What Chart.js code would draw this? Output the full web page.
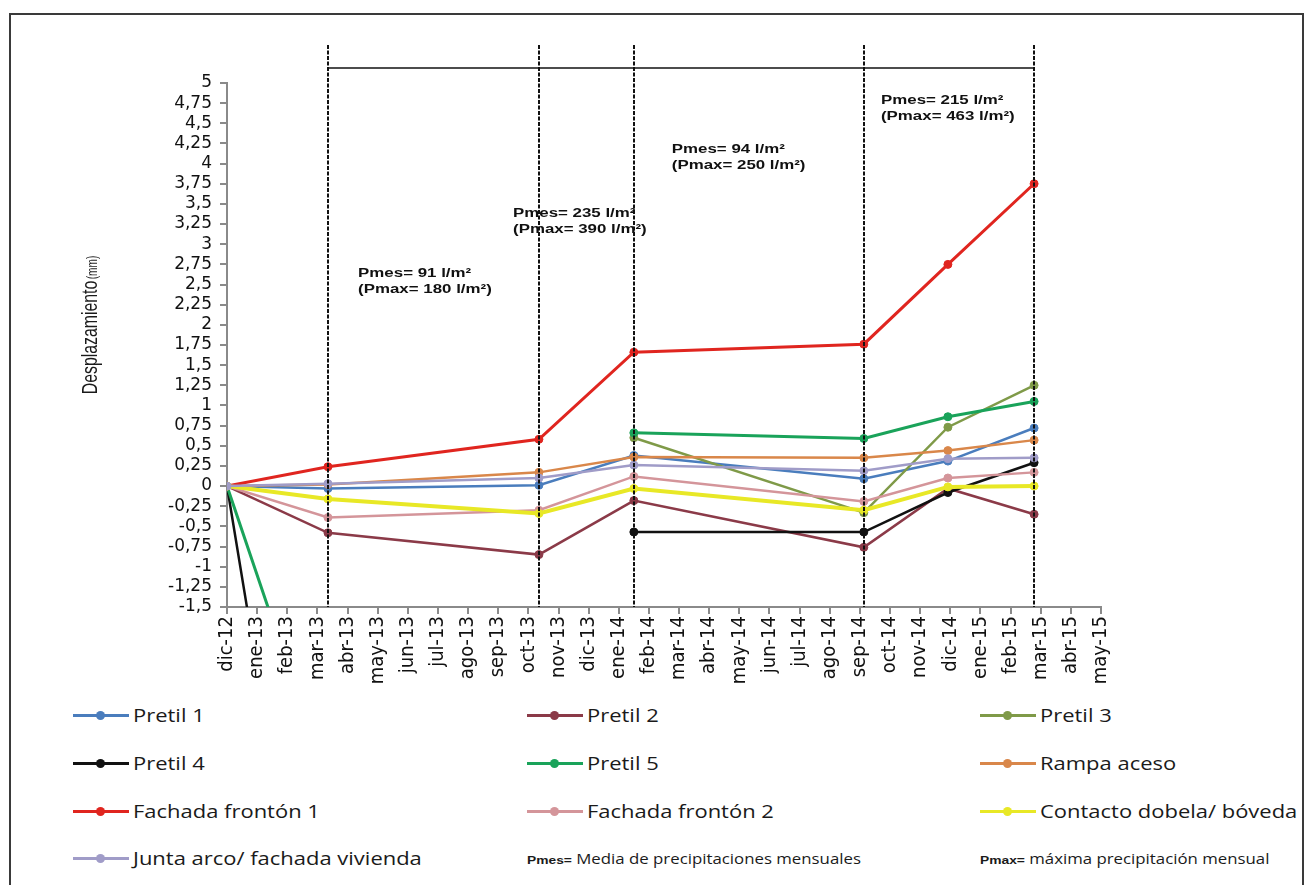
<!DOCTYPE html>
<html>
<head>
<meta charset="utf-8">
<script src="https://cdn.jsdelivr.net/npm/chart.js@4.4.1/dist/chart.umd.min.js"></script>
<style>
  html, body { margin: 0; padding: 0; background: #fff; }
  #frame { position: relative; width: 1311px; height: 885px; overflow: hidden; background: #fff; }
  #frame::before { content: ''; position: absolute; left: 9px; top: 13px; width: 1295px; height: 900px; border: 2px solid #3a3a3a; box-sizing: border-box; }
  #chart { position: absolute; left: 0; top: 0; }
  #legend { position: absolute; left: 0; top: 690px; width: 1311px; height: 195px; font-family: "Open Sans", sans-serif; font-size: 18px; color: #1a1a1a; }
  .item { position: absolute; display: flex; align-items: center; height: 24px; white-space: nowrap; }
  .swatch { position: relative; width: 56px; height: 3px; margin-right: 4px; flex: none; }
  .swatch i { position: absolute; left: 23px; top: -3px; width: 9px; height: 9px; border-radius: 50%; }
  .txt { display: inline-block; transform: scaleX(1.22); transform-origin: left center; }
  .note .txt { font-size: 14px; transform: scaleX(1.2); }
  .note b { font-family: "Liberation Sans", Arial, sans-serif; font-size: 11.5px; }
</style>
</head>
<body>
<div id="frame">
  <canvas id="chart" width="1311" height="690"></canvas>
  <div id="legend"></div>
</div>
<script>
const MONTHS = ['dic-12', 'ene-13', 'feb-13', 'mar-13', 'abr-13', 'may-13', 'jun-13', 'jul-13', 'ago-13', 'sep-13',
  'oct-13', 'nov-13', 'dic-13', 'ene-14', 'feb-14', 'mar-14', 'abr-14', 'may-14', 'jun-14', 'jul-14', 'ago-14',
  'sep-14', 'oct-14', 'nov-14', 'dic-14', 'ene-15', 'feb-15', 'mar-15', 'abr-15', 'may-15'];

// reading dates, as month offsets from dic-12
const READ_AT = [0, 3.35, 10.35, 13.5, 21.13, 23.92, 26.78];
const DIVIDERS = [3.35, 10.35, 13.5, 21.13, 26.78];

const PRETIL_1 = [0, -0.03, 0.01, 0.38, 0.09, 0.31, 0.72];
const PRETIL_2 = [0, -0.58, -0.85, -0.18, -0.76, -0.03, -0.35];
const PRETIL_3 = [null, null, null, 0.60, -0.33, 0.73, 1.25];
const PRETIL_4 = [0, -7.6, null, -0.57, -0.57, -0.08, 0.29];
const PRETIL_5 = [0, -3.7, null, 0.66, 0.59, 0.86, 1.05];
const RAMPA = [0, 0.02, 0.17, 0.36, 0.35, 0.44, 0.57];
const FRONTON_1 = [0, 0.24, 0.58, 1.66, 1.76, 2.75, 3.75];
const FRONTON_2 = [0, -0.39, -0.30, 0.12, -0.19, 0.10, 0.17];
const CONTACTO = [0, -0.16, -0.34, -0.03, -0.30, -0.01, 0.00];
const JUNTA = [0, 0.03, 0.10, 0.26, 0.19, 0.34, 0.35];

const SERIES = [
  ['Pretil 1', PRETIL_1, '#4a7dbd', 2.5],
  ['Pretil 2', PRETIL_2, '#8b3a48', 2.5],
  ['Pretil 3', PRETIL_3, '#7f9a48', 2.5],
  ['Pretil 4', PRETIL_4, '#111111', 2.5],
  ['Pretil 5', PRETIL_5, '#1aa35a', 3],
  ['Rampa aceso', RAMPA, '#d9874a', 2.5],
  ['Fachada frontón 1', FRONTON_1, '#e0251f', 3],
  ['Fachada frontón 2', FRONTON_2, '#d4959a', 2.5],
  ['Contacto dobela/ bóveda', CONTACTO, '#e8e826', 4],
  ['Junta arco/ fachada vivienda', JUNTA, '#a09cc8', 2.5],
];

const Y_MIN = -1.5;
const Y_MAX = 5;
const Y_STEP = 0.25;

// rainfall notes, anchored in data coordinates [month offset, value]
const RAIN = [
  [4.35, 2.64, 'Pmes= 91 l/m²', '(Pmax= 180 l/m²)'],
  [9.49, 3.38, 'Pmes= 235 l/m²', '(Pmax= 390 l/m²)'],
  [14.76, 4.17, 'Pmes= 94 l/m²', '(Pmax= 250 l/m²)'],
  [21.7, 4.78, 'Pmes= 215 l/m²', '(Pmax= 463 l/m²)'],
];

const comma = (v) => String(v).replace('.', ',');
const NARROW = '"Liberation Sans Narrow", "DejaVu Sans Condensed", sans-serif';

const overlay = {
  id: 'overlay',
  afterDatasetsDraw(chart) {
    const { ctx, chartArea, scales: { x, y } } = chart;
    ctx.save();
    // period dividers
    ctx.strokeStyle = '#111';
    ctx.lineWidth = 2;
    ctx.setLineDash([4, 1.5]);
    DIVIDERS.forEach((m) => {
      const px = Math.round(x.getPixelForValue(m));
      ctx.beginPath();
      ctx.moveTo(px, chartArea.top - 38);
      ctx.lineTo(px, chartArea.bottom);
      ctx.stroke();
    });
    ctx.setLineDash([]);
    ctx.lineWidth = 1.5;
    ctx.beginPath();
    ctx.moveTo(x.getPixelForValue(DIVIDERS[0]), chartArea.top - 15);
    ctx.lineTo(x.getPixelForValue(DIVIDERS[DIVIDERS.length - 1]), chartArea.top - 15);
    ctx.stroke();

    // rainfall notes (stretched bold text like the source)
    ctx.fillStyle = '#111';
    ctx.font = 'bold 12.5px "Liberation Sans", Arial, sans-serif';
    ctx.textBaseline = 'middle';
    RAIN.forEach(([m, v, l1, l2]) => {
      const px = x.getPixelForValue(m);
      const py = y.getPixelForValue(v);
      ctx.save();
      ctx.translate(px, py);
      ctx.scale(1.35, 1);
      ctx.fillText(l1, 0, 0);
      ctx.fillText(l2, 0, 16);
      ctx.restore();
    });

    // y title with small unit, squeezed along its reading direction
    ctx.save();
    ctx.translate(91, 325);
    ctx.rotate(-Math.PI / 2);
    ctx.scale(0.72, 1);
    ctx.fillStyle = '#1a1a1a';
    ctx.textBaseline = 'middle';
    const big = '22px "Liberation Sans", Arial, sans-serif';
    const small = '14px "Liberation Sans", Arial, sans-serif';
    ctx.font = big;
    const w1 = ctx.measureText('Desplazamiento').width;
    ctx.font = small;
    const w2 = ctx.measureText('(mm)').width;
    const start = -(w1 + w2 + 2) / 2;
    ctx.font = big;
    ctx.fillText('Desplazamiento', start, 0);
    ctx.font = small;
    ctx.fillText('(mm)', start + w1 + 2, 2);
    ctx.restore();
    ctx.restore();
  },
};

new Chart(document.getElementById('chart'), {
  type: 'line',
  data: {
    datasets: SERIES.map(([label, vals, color, width], i) => ({
      label,
      data: vals.map((v, k) => ({ x: READ_AT[k], y: v })),
      borderColor: color,
      backgroundColor: color,
      borderWidth: width,
      pointRadius: 4,
      pointBorderWidth: 1,
      pointBorderColor: color,
      spanGaps: false,
      order: -i,
    })),
  },
  options: {
    responsive: false,
    animation: false,
    layout: { padding: { left: 0, right: 210, top: 83, bottom: 0 } },
    plugins: { legend: { display: false }, tooltip: { enabled: false } },
    scales: {
      x: {
        type: 'linear',
        min: 0,
        max: MONTHS.length - 1,
        afterFit: (s) => { s.height = 83; },
        border: { color: '#8a8a8a', width: 2 },
        grid: { drawOnChartArea: false, color: '#8a8a8a', lineWidth: 2, tickLength: 7 },
        ticks: {
          stepSize: 1,
          maxTicksLimit: 40,
          autoSkip: false,
          minRotation: 90,
          maxRotation: 90,
          padding: 2,
          color: '#111',
          font: { family: NARROW, size: 20, lineHeight: 1 },
          callback: (v) => MONTHS[v] ?? '',
        },
      },
      y: {
        min: Y_MIN,
        max: Y_MAX,
        afterFit: (s) => { s.width = 227; },
        border: { color: '#8a8a8a', width: 2 },
        grid: { drawOnChartArea: false, color: '#8a8a8a', lineWidth: 2, tickLength: 7 },
        ticks: {
          stepSize: Y_STEP,
          maxTicksLimit: 40,
          padding: 8,
          color: '#111',
          font: { family: '"DejaVu Sans", sans-serif', size: 17, lineHeight: 1 },
          callback: (v) => comma(v),
        },
      },
    },
  },
  plugins: [overlay],
});

// legend: three columns, four rows
const COLS = [73, 527, 980];
const ROWS = [25, 73, 121, 168];
const legend = document.getElementById('legend');
SERIES.forEach(([label, , color], i) => {
  const el = document.createElement('div');
  el.className = 'item';
  el.style.left = COLS[i % 3] + 'px';
  el.style.top = (ROWS[Math.floor(i / 3)] - 12) + 'px';
  el.innerHTML = `<span class="swatch" style="background:${color}"><i style="background:${color}"></i></span><span class="txt">${label}</span>`;
  legend.appendChild(el);
});
[
  [COLS[1], 'Pmes=', 'Media de precipitaciones mensuales'],
  [COLS[2], 'Pmax=', 'máxima precipitación mensual'],
].forEach(([left, key, text]) => {
  const el = document.createElement('div');
  el.className = 'item note';
  el.style.left = left + 'px';
  el.style.top = (ROWS[3] - 12) + 'px';
  el.innerHTML = `<span class="txt"><b>${key}</b>&nbsp;${text}</span>`;
  legend.appendChild(el);
});
</script>
</body>
</html>
